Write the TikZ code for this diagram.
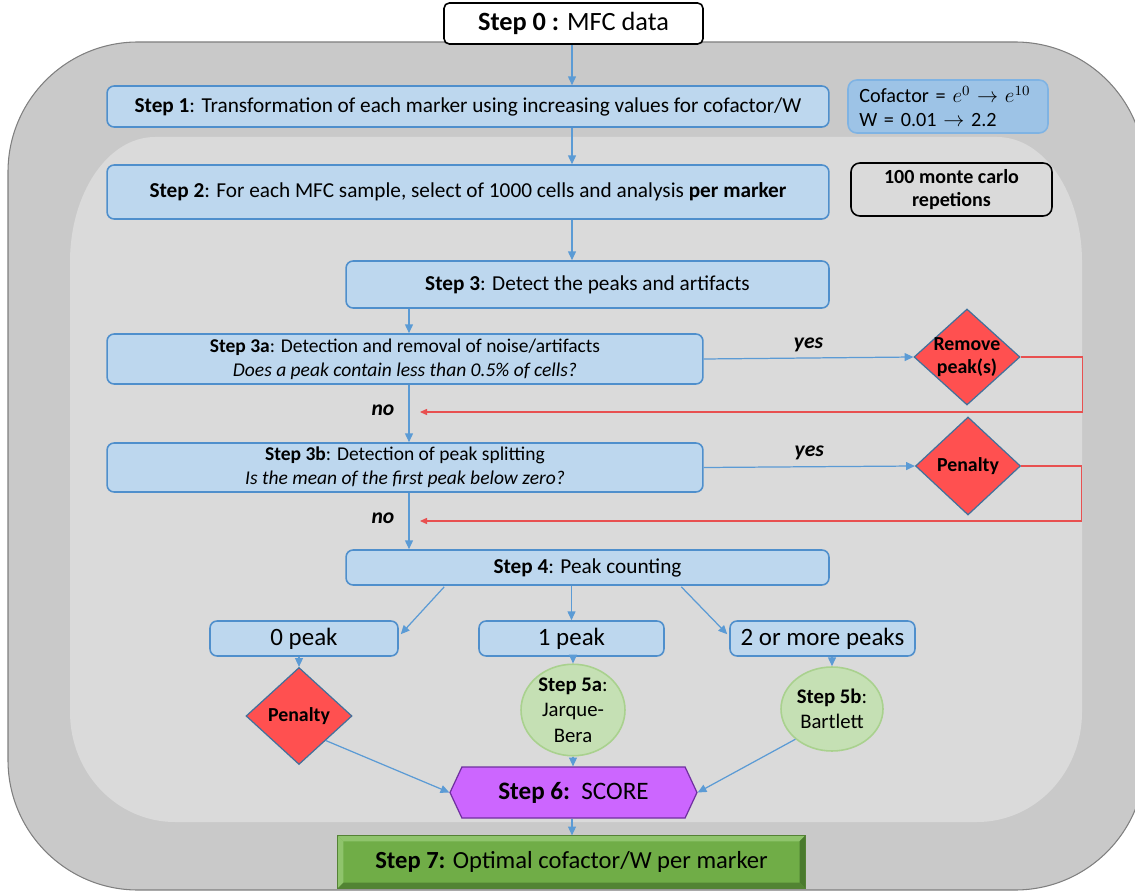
\documentclass[tikz,border=0pt]{standalone}
\usepackage{fontspec}
\setmainfont{Carlito}
\usetikzlibrary{arrows.meta,positioning,calc,shapes.geometric,shapes.symbols}

\definecolor{outergrey}{HTML}{C9C9C9}
\definecolor{outerline}{HTML}{7F7F7F}
\definecolor{innergrey}{HTML}{DADADA}
\definecolor{stepfill}{HTML}{BDD7EE}
\definecolor{stepline}{HTML}{4F8FCC}
\definecolor{notefill}{HTML}{9DC3E6}
\definecolor{noteline}{HTML}{7FB3E3}
\definecolor{arrowblue}{HTML}{5B9BD5}
\definecolor{penfill}{HTML}{FF5050}
\definecolor{penline}{HTML}{41719C}
\definecolor{testfill}{HTML}{C5E0B4}
\definecolor{testline}{HTML}{A9D18E}
\definecolor{scorefill}{HTML}{CC66FF}
\definecolor{scoreline}{HTML}{7030A0}
\definecolor{finalfill}{HTML}{70AD47}
\definecolor{finalline}{HTML}{548235}
\definecolor{finalhi}{HTML}{8FC46C}
\definecolor{finallo}{HTML}{4A7A2E}
\definecolor{loopred}{HTML}{E85050}

\tikzset{
  stepbox/.style={draw=stepline, fill=stepfill, line width=0.9pt,
    rounded corners=4pt, align=center, inner sep=2pt,
    font=\fontsize{12.1}{14}\selectfont},
  subbox/.style={stepbox, font=\fontsize{11.1}{13.5}\selectfont},
  peakbox/.style={stepbox, minimum width=3.7cm, minimum height=0.7cm,
    font=\fontsize{14.2}{16}\selectfont},
  penbox/.style={diamond, draw=penline, fill=penfill, line width=0.7pt,
    inner sep=0pt},
  penlabel/.style={font=\fontsize{11.3}{13.5}\selectfont\bfseries, align=center},
  testbox/.style={ellipse, draw=testline, fill=testfill, line width=0.9pt,
    align=center, inner sep=0pt, font=\fontsize{11.8}{14.5}\selectfont},
  arr/.style={arrowblue, line width=0.7pt,
    -{Triangle[length=5pt,width=4.5pt]}},
  loopline/.style={loopred, line width=0.6pt,
    -{Triangle[length=4pt,width=3.5pt]}},
  answer/.style={text=black, font=\fontsize{12.3}{14}\selectfont\bfseries\itshape}
}

\begin{document}
\begin{tikzpicture}[x=0.02cm, y=-0.02cm]
  \clip (0,0) rectangle (1135,891);

  % Panel background
  \filldraw[fill=outergrey, draw=outerline, line width=0.6pt,
    rounded corners=2.6cm] (8,42) rectangle (1145,890);
  \fill[innergrey] (155,137) -- (997,137)
    .. controls (1044,137) and (1082,193) .. (1082,262) -- (1082,712)
    .. controls (1082,773) and (1035,822) .. (977,822) -- (175,822)
    .. controls (117,822) and (70,773) .. (70,712) -- (70,262)
    .. controls (70,193) and (108,137) .. (155,137) -- cycle;

  % Steps
  \node[draw=black, fill=white, line width=0.9pt, rounded corners=3pt,
    minimum width=5.18cm, minimum height=0.82cm,
    font=\fontsize{15}{17}\selectfont] (s0) at (573.5,23.5)
    {\textbf{Step 0 :} MFC data};

  \node[stepbox, minimum width=14.44cm, minimum height=0.82cm] (s1)
    at (468,106.5)
    {\textbf{Step 1}: Transformation of each marker using increasing values for cofactor/W};
  \node[draw=noteline, fill=notefill, line width=0.9pt, rounded corners=5pt,
    minimum width=4cm, minimum height=1.06cm, align=left, inner sep=3pt,
    text width=3.55cm, font=\fontsize{11.5}{13.5}\selectfont] (cof) at (948,106.5)
    {Cofactor = $e^{0}$ $\rightarrow$ $e^{10}$\\W = 0.01 $\rightarrow$ 2.2};

  \node[stepbox, minimum width=14.44cm, minimum height=1.08cm] (s2)
    at (468,192)
    {\textbf{Step 2}: For each MFC sample, select of 1000 cells and analysis \textbf{per marker}};
  \node[draw=black, fill=innergrey, line width=0.9pt, rounded corners=5pt,
    minimum width=4.02cm, minimum height=1.06cm, align=center,
    font=\fontsize{11.4}{13.5}\selectfont\bfseries] (mc) at (951.5,189.5)
    {100 monte carlo\\repetions};

  \node[stepbox, minimum width=9.66cm, minimum height=0.94cm] (s3)
    at (587.5,284.5) {\textbf{Step 3}: Detect the peaks and artifacts};

  \node[subbox, minimum width=11.92cm, minimum height=1cm] (s3a) at (405,359)
    {\textbf{Step 3a}: Detection and removal of noise/artifacts\\
     \textit{Does a peak contain less than 0.5\% of cells?}};
  \node[penbox, minimum width=2.12cm, minimum height=1.92cm,
    label={[penlabel]center:Remove\\peak(s)}] (rm) at (967,357) {};

  \node[subbox, minimum width=11.92cm, minimum height=0.98cm] (s3b)
    at (405,467.5)
    {\textbf{Step 3b}: Detection of peak splitting\\
     \textit{Is the mean of the first peak below zero?}};
  \node[penbox, minimum width=2.1cm, minimum height=1.96cm,
    label={[penlabel]center:Penalty}] (pen) at (968,466) {};

  \node[stepbox, minimum width=9.66cm, minimum height=0.7cm] (s4)
    at (587.5,567.5) {\textbf{Step 4}: Peak counting};

  \node[peakbox, minimum width=3.76cm] (p0) at (304,638.5) {0 peak};
  \node[peakbox] (p1) at (571.5,638.5) {1 peak};
  \node[peakbox] (p2) at (822.5,638.5) {2 or more peaks};

  \node[penbox, minimum width=2.12cm, minimum height=1.94cm,
    label={[penlabel]center:Penalty}] (pz) at (299,716) {};
  \node[testbox, minimum width=2.08cm, minimum height=1.68cm] (s5a)
    at (573,710) {\textbf{Step 5a}:\\Jarque-\\Bera};
  \node[testbox, minimum width=2.04cm, minimum height=1.68cm] (s5b)
    at (832,709) {\textbf{Step 5b}:\\Bartlett};

  \node[signal, signal to=west and east, signal pointer angle=130,
    draw=scoreline, fill=scorefill, line width=0.7pt,
    minimum width=4.94cm, minimum height=1.02cm,
    font=\fontsize{14.3}{16}\selectfont] (s6) at (573.5,792.5)
    {\textbf{Step 6:}\ \ SCORE};

  \node[draw=finalline, fill=finalfill, line width=0.7pt,
    minimum width=9.34cm, minimum height=1.04cm,
    font=\fontsize{14}{16}\selectfont] (s7) at (571.5,862)
    {\textbf{Step 7:} Optimal cofactor/W per marker};
  % bevel of the last box
  \fill[finalhi] (s7.north west) -- (s7.north east)
    -- ($(s7.north east)+(-6,6)$) -- ($(s7.north west)+(6,6)$) -- cycle;
  \fill[finalhi] (s7.north west) -- ($(s7.north west)+(6,6)$)
    -- ($(s7.south west)+(6,-6)$) -- (s7.south west) -- cycle;
  \fill[finallo] (s7.north east) -- ($(s7.north east)+(-6,6)$)
    -- ($(s7.south east)+(-6,-6)$) -- (s7.south east) -- cycle;
  \fill[finallo!80!finalfill] (s7.south west) -- ($(s7.south west)+(6,-6)$)
    -- ($(s7.south east)+(-6,-6)$) -- (s7.south east) -- cycle;
  \draw[finalline, line width=0.7pt] (s7.north west) rectangle (s7.south east);

  % Connectors
  \draw[arr] (s0.south -| 572,0) -- (s1.north -| 572,0);
  \draw[arr] (s1.south -| 572,0) -- (s2.north -| 572,0);
  \draw[arr] (s2.south -| 572,0) -- (s3.north -| 572,0);
  \draw[arr] (s3.south -| 409,0) -- (s3a.north -| 409,0);
  \draw[arr] (s3a.south -| 409,0) -- (s3b.north -| 409,0);
  \draw[arr] (s3b.south -| 409,0) -- (s4.north -| 409,0);

  \draw[arr] (s3a.east) -- (rm.west)
    node[answer, pos=0.5, above=0pt] {yes};
  \draw[arr] (s3b.east) -- (pen.west)
    node[answer, pos=0.5, above=0pt] {yes};

  \coordinate (back1) at (420,412);
  \coordinate (back2) at (420,521);
  \draw[loopline] (rm.east) -- ++(62,0) |- (back1);
  \draw[loopline] (pen.east) -- ++(60,0) |- (back2);
  \node[answer] (no1) at (383,410) {no};
  \node[answer] (no2) at (383,518) {no};

  \draw[arr] ($(s4.south west)+(99,1)$) -- ($(p0.north east)+(2,14)$);
  \draw[arr] (s4.south -| p1) -- (p1.north);
  \draw[arr] ($(s4.south west)+(336,1)$) -- ($(p2.north west)+(-2,14)$);

  \draw[arr] (p0.south -| pz) -- (pz.north);
  \draw[arr] (p1.south -| s5a) -- (s5a.north);
  \draw[arr] (p2.south -| s5b) -- (s5b.north);

  \draw[arr] (pz.south east) -- (s6.west);
  \draw[arr] (s5a.south) -- (s6.north -| s5a);
  \draw[arr] (s5b.south west) -- (s6.east);
  \draw[arr] (s6.south -| 572,0) -- (s7.north -| 572,0);
\end{tikzpicture}
\end{document}
